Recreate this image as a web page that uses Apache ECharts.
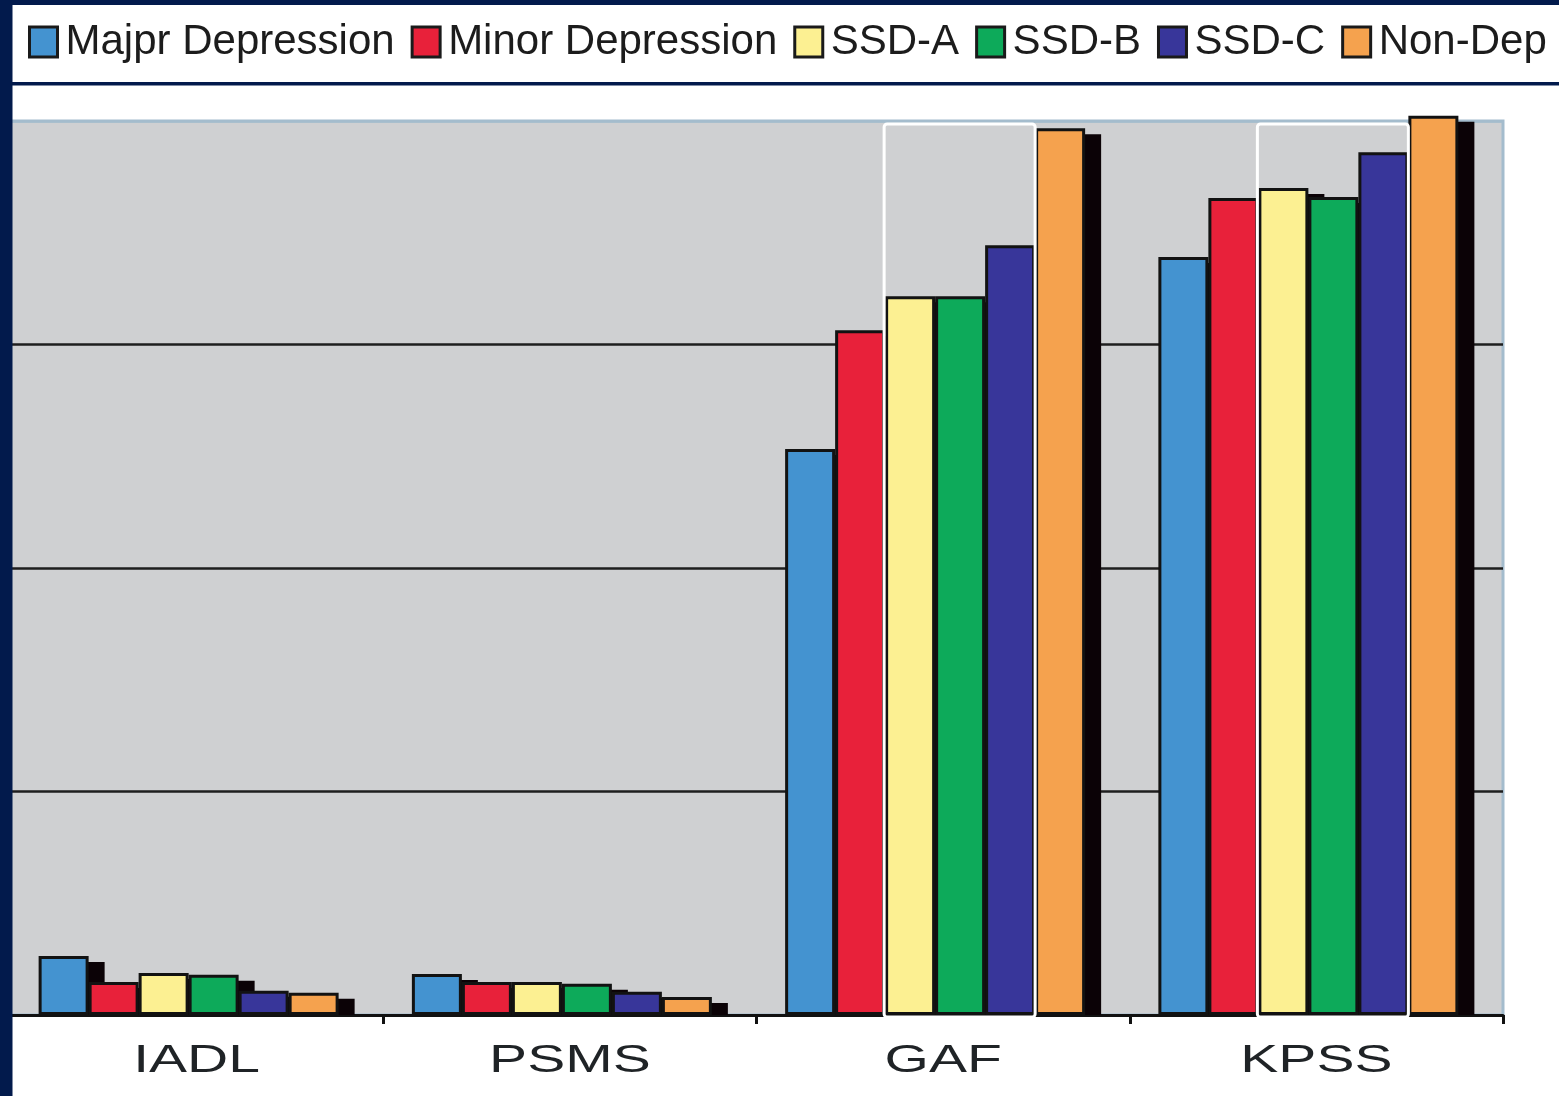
<!DOCTYPE html>
<html>
<head>
<meta charset="utf-8">
<script src="https://cdn.jsdelivr.net/npm/echarts@6/dist/echarts.min.js"></script>
<style>
  html, body { margin: 0; padding: 0; background: #ffffff; }
  #chart { width: 1559px; height: 1096px; }
</style>
</head>
<body>
<div id="chart"></div>
<script>
// Scale categories
const categories = ['IADL', 'PSMS', 'GAF', 'KPSS'];

// Group names (legend order)
const groupNames = ['Majpr Depression', 'Minor Depression', 'SSD-A', 'SSD-B', 'SSD-C', 'Non-Dep'];

// Mean scores per group
const majorDepression = [6.6, 4.6, 63.3, 84.8];
const minorDepression = [3.7, 3.7, 76.6, 91.4];
const ssdA = [4.7, 3.7, 80.4, 92.5];
const ssdB = [4.5, 3.5, 80.4, 91.5];
const ssdC = [2.7, 2.6, 86.1, 96.5];
const nonDep = [2.5, 2.0, 99.2, 100.6];

// Scales where the SSD subgroups are outlined
const outlinedCategories = ['GAF', 'KPSS'];

// Value axis range
const yMin = 0;
const yMax = 100;
const yStep = 25;

const groupValues = [majorDepression, minorDepression, ssdA, ssdB, ssdC, nonDep];
const groupColors = ['#4493d0', '#e8213a', '#fcf092', '#0daa5a', '#38369a', '#f5a24e'];

const BAR_W = 50;     // width of each bar
const DEPTH_W = 16;   // horizontal depth of the extruded dark side
const DEPTH_H = 6;    // vertical drop of the dark side
const GROUP_W = BAR_W * groupNames.length + DEPTH_W;
const NAVY = '#021a4c';
const FONT = '"Liberation Sans", Arial, Helvetica, sans-serif';

const chart = echarts.init(document.getElementById('chart'), null, { renderer: 'canvas' });

const barSeries = groupNames.map((name, i) => ({
  name: name,
  type: 'bar',
  z: 3,
  data: groupValues[i],
  barWidth: BAR_W,
  barGap: '0%',
  clip: false,
  itemStyle: {
    color: groupColors[i],
    borderColor: '#121212',
    borderWidth: 3
  },
  emphasis: { disabled: true }
}));

// Empty slot reserving room for the dark side so the group is centred with it
barSeries.push({
  name: 'depth',
  type: 'bar',
  data: categories.map(() => 0),
  barWidth: DEPTH_W,
  barGap: '0%',
  silent: true,
  itemStyle: { opacity: 0 },
  emphasis: { disabled: true }
});

// Dark extruded side behind every bar
const depthData = [];
groupValues.forEach((vals, g) => {
  vals.forEach((v, i) => depthData.push([categories[i], v, g]));
});
const depthSeries = {
  type: 'custom',
  silent: true,
  z: 2,
  clip: false,
  data: depthData,
  encode: { x: 0, y: 1 },
  renderItem: function (params, api) {
    const idx = api.value(0);
    const g = api.value(2);
    const base = api.coord([idx, yMin]);
    const top = api.coord([idx, api.value(1)])[1];
    const x = base[0] - GROUP_W / 2 + g * BAR_W + DEPTH_W;
    return {
      type: 'rect',
      shape: { x: x, y: top + DEPTH_H, width: BAR_W, height: base[1] - top - DEPTH_H },
      style: { fill: '#0b0206' }
    };
  }
};

// White frame around SSD-A..SSD-C
const frameSeries = {
  type: 'custom',
  silent: true,
  z: 5,
  data: outlinedCategories.map(c => [c]),
  encode: { x: 0 },
  renderItem: function (params, api) {
    const idx = api.value(0);
    const base = api.coord([idx, yMin]);
    const top = api.coord([idx, yMax])[1];
    const left = base[0] - GROUP_W / 2;
    const x0 = left + BAR_W * 2 - 1;
    const x1 = left + BAR_W * 5;
    return {
      type: 'rect',
      shape: { x: x0, y: top + 3, width: x1 - x0, height: base[1] - top - 1, r: 3 },
      style: { fill: 'none', stroke: '#ffffff', lineWidth: 3 }
    };
  }
};

// Wide category labels under the axis
const labelSeries = {
  type: 'custom',
  silent: true,
  z: 5,
  data: categories.map(c => [c]),
  encode: { x: 0 },
  renderItem: function (params, api) {
    const idx = api.value(0);
    const p = api.coord([idx, yMin]);
    return {
      type: 'text',
      x: p[0],
      y: p[1] + 47,
      scaleX: 1.5,
      style: {
        text: categories[idx],
        fontSize: 38,
        fontFamily: FONT,
        fill: '#1f2326',
        align: 'center',
        verticalAlign: 'middle'
      }
    };
  }
};

const option = {
  animation: false,
  backgroundColor: '#ffffff',
  legend: {
    data: groupNames,
    left: 28,
    top: 21,
    width: 1560,
    padding: 0,
    icon: 'rect',
    itemWidth: 28,
    itemHeight: 30,
    itemGap: 16,
    selectedMode: false,
    itemStyle: {
      borderColor: '#1a1a1a',
      borderWidth: 3,
      shadowColor: 'rgba(0,0,0,0)',
      shadowBlur: 0,
      shadowOffsetX: 0,
      shadowOffsetY: 0
    },
    textStyle: {
      fontSize: 42,
      fontFamily: FONT,
      color: '#1c1c1c',
      padding: [0, 0, 0, 3]
    }
  },
  grid: {
    left: 10,
    right: 56,
    top: 121,
    bottom: 81,
    show: true,
    backgroundColor: '#cfd0d2',
    borderColor: '#a4bccd',
    borderWidth: 3
  },
  xAxis: {
    type: 'category',
    data: categories,
    boundaryGap: true,
    axisLine: { lineStyle: { color: '#111111', width: 3 } },
    axisTick: { show: true, length: 9, lineStyle: { color: '#111111', width: 3 } },
    axisLabel: { show: false },
    splitLine: { show: false }
  },
  yAxis: {
    type: 'value',
    min: yMin,
    max: yMax,
    interval: yStep,
    axisLine: { show: false },
    axisTick: { show: false },
    axisLabel: { show: false },
    splitLine: {
      show: true,
      lineStyle: {
        color: ['#1e1e1e', '#1e1e1e', '#1e1e1e', '#1e1e1e', '#a4bccd'],
        width: 2.5
      }
    }
  },
  graphic: [
    { type: 'rect', z: 100, silent: true, shape: { x: 0, y: 0, width: 12.5, height: 1096 }, style: { fill: NAVY } },
    { type: 'rect', z: 100, silent: true, shape: { x: 0, y: 0, width: 1559, height: 5 }, style: { fill: NAVY } },
    { type: 'rect', z: 100, silent: true, shape: { x: 12, y: 82, width: 1547, height: 3.5 }, style: { fill: NAVY } }
  ],
  series: [depthSeries].concat(barSeries, [frameSeries, labelSeries])
};

chart.setOption(option);
</script>
</body>
</html>
